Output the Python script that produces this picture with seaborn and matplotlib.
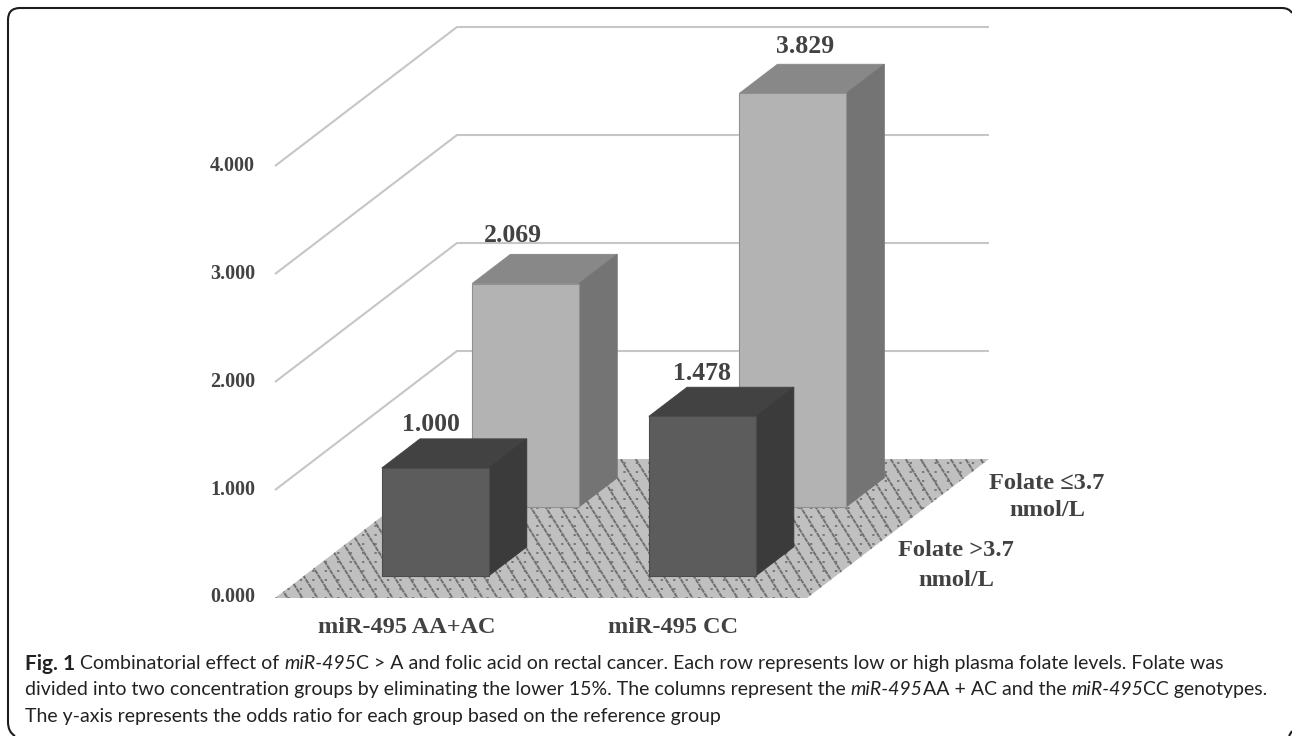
import matplotlib
matplotlib.use("Agg")
import matplotlib.pyplot as plt
from matplotlib.patches import Polygon, PathPatch
from matplotlib.path import Path
from matplotlib.transforms import ScaledTranslation, IdentityTransform
import numpy as np
import pandas as pd
import seaborn as sns

# Odds ratios by genotype (columns) and folate level (rows)
genotypes = ["miR-495 AA+AC", "miR-495 CC"]
low_folate_or = [2.069, 3.829]
high_folate_or = [1.000, 1.478]
value_ticks = [0, 1, 2, 3, 4]
value_tick_labels = ["0.000", "1.000", "2.000", "3.000", "4.000"]

# Floor scale and the oblique depth axis, in output pixels
W, H = 1292, 736
X0, Y0 = 275.0, 598.0
PX_PER_COL, PX_PER_VAL = 532.0, 108.0
DEPTH_DX, DEPTH_DY = 182.0, 139.0
COL_CENTRES = [0.247, 0.749]
ROW_HIGH, ROW_LOW = 0.263, 0.76
BAR_DEPTH = 0.21
BAR_WIDTH = 0.4  # share of the column spacing
SERIF = "Liberation Serif"
INK = "#424242"


def project(col, row, val):
    """Oblique projection from (column, depth row, value) to axes data."""
    return col + row * DEPTH_DX / PX_PER_COL, val + row * DEPTH_DY / PX_PER_VAL


sns.set_theme(style="white")
fig = plt.figure(figsize=(W / 100, H / 100), dpi=100, facecolor="white")
ax = fig.add_axes([0, 0, 1, 1])

xlim = (-X0 / PX_PER_COL, (W - X0) / PX_PER_COL)
ylim = ((Y0 - H) / PX_PER_VAL, Y0 / PX_PER_VAL)


def px(x_pixel, y_pixel):
    """Texture helper: output pixels to axes data."""
    return (x_pixel - X0) / PX_PER_COL, (Y0 - y_pixel) / PX_PER_VAL


# Back and side wall gridlines
for v in value_ticks[1:]:
    xs, ys = zip(project(0, 0, v), project(0, 1, v), project(1, 1, v))
    ax.plot(xs, ys, color="#c6c6c6", lw=1.5, zorder=1, solid_capstyle="butt")

# Patterned floor
corners = [project(0, 0, 0), project(1, 0, 0), project(1, 1, 0), project(0, 1, 0)]
floor = Polygon(corners, closed=True, facecolor="#c0c0c0", edgecolor="none", zorder=1.1)
ax.add_patch(floor)
for start in np.arange(-120, 1100, 15.0):
    xa, ya = px(start, 450)
    xb, yb = px(start + 100, 610)
    ln, = ax.plot([xa, xb], [ya, yb], color="#707070", lw=1.4, ls=(0, (2.4, 0.4)), zorder=1.2)
    ln.set_clip_path(floor)
for row_y in np.arange(463, 600, 9.0):
    xa, ya = px(250, row_y)
    xb, yb = px(1000, row_y)
    ln, = ax.plot([xa, xb], [ya, yb], color="#787878", lw=1.4, ls=(0, (1.2, 5.2)), zorder=1.2)
    ln.set_clip_path(floor)


def draw_row(values, row, face, top, side, z):
    """Front faces come from seaborn; the top and side faces extend each bar."""
    frame = pd.DataFrame({"x": [project(c, row - BAR_DEPTH / 2, 0)[0] for c in COL_CENTRES],
                          "value": values})
    base = project(0, row - BAR_DEPTH / 2, 0)[1]
    before = len(ax.patches)
    sns.barplot(data=frame, x="x", y="value", native_scale=True, width=BAR_WIDTH,
                color=face, saturation=1, errorbar=None, bottom=base, ax=ax,
                edgecolor="#909090" if z == 3 else "#4c4c4c", linewidth=0.8, zorder=z + 0.2)
    dx = BAR_DEPTH * DEPTH_DX / PX_PER_COL
    dy = BAR_DEPTH * DEPTH_DY / PX_PER_VAL
    bars = list(ax.patches[before:])
    for bar in bars:
        x, y, w, h = bar.get_x(), bar.get_y(), bar.get_width(), bar.get_height()
        ax.add_patch(Polygon([(x, y + h), (x + w, y + h), (x + w + dx, y + h + dy), (x + dx, y + h + dy)],
                             facecolor=top, edgecolor=top, lw=0.6, zorder=z))
        ax.add_patch(Polygon([(x + w, y), (x + w + dx, y + dy), (x + w + dx, y + h + dy), (x + w, y + h)],
                             facecolor=side, edgecolor=side, lw=0.6, zorder=z))
    return bars


back_bars = draw_row(low_folate_or, ROW_LOW, "#b3b3b3", "#888888", "#747474", 3)
front_bars = draw_row(high_folate_or, ROW_HIGH, "#5c5c5c", "#424242", "#3b3b3b", 4)

# Value labels sit above each bar's top face, offsets in pixels from its front-left corner
label_offsets = {1.000: (49, 44), 1.478: (53, 43), 2.069: (41, 48), 3.829: (66, 47)}
for bars, vals in ((back_bars, low_folate_or), (front_bars, high_folate_or)):
    for bar, val in zip(bars, vals):
        ox, oy = label_offsets[val]
        ax.annotate(f"{val:.3f}", (bar.get_x(), bar.get_y() + bar.get_height()),
                    xytext=(ox, oy), textcoords="offset pixels", ha="center", va="center",
                    family=SERIF, weight="bold", fontsize=18.5, color=INK, zorder=6)

# Axes: real ticks with labels pulled inside the canvas
ax.set_xlim(*xlim)
ax.set_ylim(*ylim)
ax.set_xlabel("")
ax.set_ylabel("")
ax.set_yticks(value_ticks, value_tick_labels, family=SERIF, weight="bold", fontsize=14.5, color=INK)
ax.tick_params(axis="y", length=0, pad=-255 * 0.72)
for lab in ax.get_yticklabels():
    lab.set_transform(lab.get_transform() + ScaledTranslation(0, 3 / 100, fig.dpi_scale_trans))
ax.set_xticks(COL_CENTRES, genotypes, family=SERIF, weight="bold", fontsize=17.5, color=INK)
ax.tick_params(axis="x", length=0, pad=-(H - 617) * 0.72)
sns.despine(ax=ax, left=True, bottom=True)

# Row labels beside the floor
for text, col_px, y_px in (("Folate \u22643.7", 1047, 483), ("nmol/L", 1047, 511),
                           ("Folate >3.7", 956, 550), ("nmol/L", 956, 580)):
    ax.text(px(col_px, 0)[0], px(0, y_px)[1], text, ha="center", va="center", family=SERIF,
            weight="bold", fontsize=17.6, color=INK)


def frame_path(points, codes):
    """Panel frame stroke, given top-down pixel positions."""
    verts = [(x, H - y) for x, y in points]
    ax.add_patch(PathPatch(Path(verts, codes), transform=IdentityTransform(), fill=False,
                           edgecolor="#1c1c1c", lw=1.5, clip_on=False, zorder=7))


# Panel frame runs off the canvas at the lower and right edges
frame_path([(15, 736), (8, 732), (8, 722), (8, 20), (8, 8), (20, 8), (1282, 8), (1289, 8), (1292, 13)],
           [Path.MOVETO, Path.CURVE3, Path.CURVE3, Path.LINETO, Path.CURVE3, Path.CURVE3,
            Path.LINETO, Path.CURVE3, Path.CURVE3])
frame_path([(1292, 731), (1289, 736)], [Path.MOVETO, Path.LINETO])

# Caption, written run by run so the italics and bold can share a line
caption = [
    [("Fig. 1", "bold"), (" Combinatorial effect of ", "normal"), ("miR-495", "italic"),
     ("C > A and folic acid on rectal cancer. Each row represents low or high plasma folate levels. Folate was", "normal")],
    [("divided into two concentration groups by eliminating the lower 15%. The columns represent the ", "normal"),
     ("miR-495", "italic"), ("AA + AC and the ", "normal"), ("miR-495", "italic"), ("CC genotypes.", "normal")],
    [("The y-axis represents the odds ratio for each group based on the reference group", "normal")],
]
fig.canvas.draw()
renderer = fig.canvas.get_renderer()
for line, y_pix in zip(caption, (662, 688, 715)):
    cursor = 25.0
    for chunk, style in line:
        t = fig.text(cursor / W, 1 - y_pix / H, chunk.replace(" ", "\u00a0"), ha="left", va="center_baseline",
                     family="Lato", fontsize=15 if style == "bold" else 14.03, color="#222222",
                     weight="bold" if style == "bold" else "normal",
                     style="italic" if style == "italic" else "normal")
        cursor += t.get_window_extent(renderer).width

fig.savefig("out.png", dpi=100, facecolor="white")
